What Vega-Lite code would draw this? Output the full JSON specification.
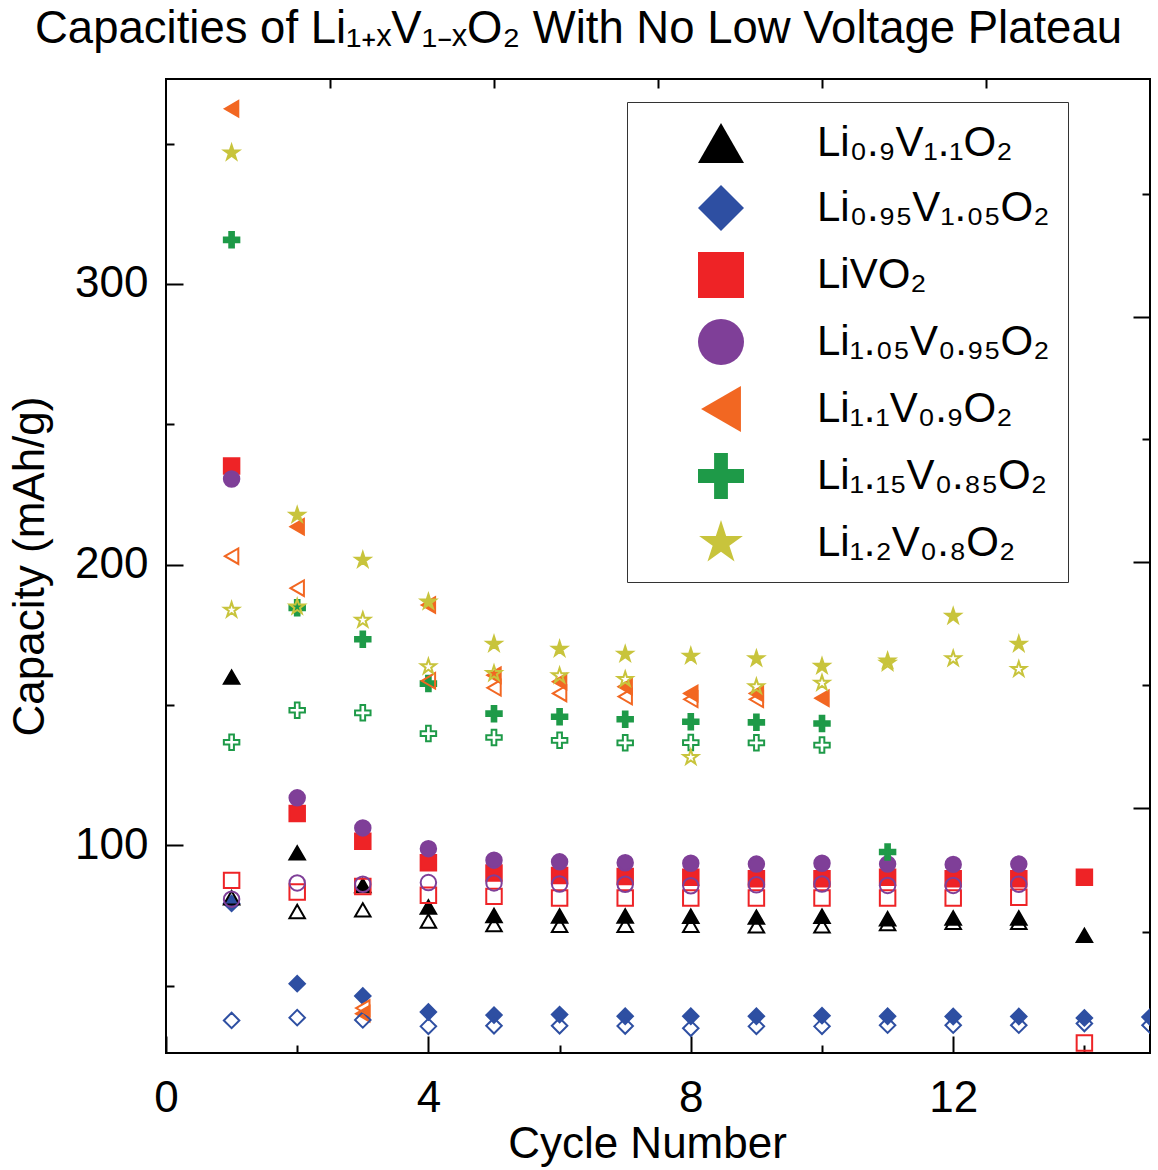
{
  "$schema": "https://vega.github.io/schema/vega-lite/v6.json",
  "autosize": {"type": "none"},
  "padding": {"left": 166, "top": 79, "right": 8, "bottom": 117},
  "width": 984,
  "height": 974,
  "background": "white",
  "title": {
    "text": "Capacities of Li₁₊ₓV₁₋ₓO₂ With No Low Voltage Plateau",
    "anchor": "start",
    "frame": "group",
    "dx": -131,
    "baseline": "alphabetic",
    "offset": -10,
    "fontSize": 45.5,
    "font": "Liberation Sans",
    "fontWeight": "normal",
    "color": "#000000"
  },
  "config": {
    "font": "Liberation Sans",
    "view": {"stroke": "#000000", "strokeWidth": 2},
    "axis": {"grid": false, "domain": false, "tickColor": "#000000", "tickWidth": 2, "labelColor": "#000000", "titleColor": "#000000", "labelFont": "Liberation Sans", "titleFont": "Liberation Sans", "titleFontWeight": "normal"},
    "legend": {
      "orient": "none",
      "legendX": 461,
      "legendY": 23,
      "padding": 18,
      "symbolOffset": 53,
      "labelOffset": 73,
      "rowPadding": 21,
      "symbolSize": 2116,
      "symbolStrokeWidth": 0,
      "labelFontSize": 42,
      "labelFont": "Liberation Sans",
      "labelColor": "#000000",
      "labelLimit": 600,
      "strokeColor": "#333333",
      "fillColor": "#ffffff"
    }
  },
  "datasets": {
    "caps": [
      {"c": "Li₀.₉V₁.₁O₂", "k": "f", "x": 1, "y": 159.9},
      {"c": "Li₀.₉V₁.₁O₂", "k": "f", "x": 2, "y": 97.3},
      {"c": "Li₀.₉V₁.₁O₂", "k": "f", "x": 3, "y": 85.7},
      {"c": "Li₀.₉V₁.₁O₂", "k": "f", "x": 4, "y": 78.0},
      {"c": "Li₀.₉V₁.₁O₂", "k": "f", "x": 5, "y": 75.0},
      {"c": "Li₀.₉V₁.₁O₂", "k": "f", "x": 6, "y": 74.8},
      {"c": "Li₀.₉V₁.₁O₂", "k": "f", "x": 7, "y": 74.8},
      {"c": "Li₀.₉V₁.₁O₂", "k": "f", "x": 8, "y": 74.7},
      {"c": "Li₀.₉V₁.₁O₂", "k": "f", "x": 9, "y": 74.4},
      {"c": "Li₀.₉V₁.₁O₂", "k": "f", "x": 10, "y": 74.7},
      {"c": "Li₀.₉V₁.₁O₂", "k": "f", "x": 11, "y": 73.8},
      {"c": "Li₀.₉V₁.₁O₂", "k": "f", "x": 12, "y": 74.1},
      {"c": "Li₀.₉V₁.₁O₂", "k": "f", "x": 13, "y": 74.1},
      {"c": "Li₀.₉V₁.₁O₂", "k": "f", "x": 14, "y": 67.9},
      {"c": "Li₀.₉₅V₁.₀₅O₂", "k": "f", "x": 1, "y": 79.3},
      {"c": "Li₀.₉₅V₁.₀₅O₂", "k": "f", "x": 2, "y": 50.7},
      {"c": "Li₀.₉₅V₁.₀₅O₂", "k": "f", "x": 3, "y": 46.3},
      {"c": "Li₀.₉₅V₁.₀₅O₂", "k": "f", "x": 4, "y": 40.6},
      {"c": "Li₀.₉₅V₁.₀₅O₂", "k": "f", "x": 5, "y": 39.5},
      {"c": "Li₀.₉₅V₁.₀₅O₂", "k": "f", "x": 6, "y": 39.7},
      {"c": "Li₀.₉₅V₁.₀₅O₂", "k": "f", "x": 7, "y": 39.1},
      {"c": "Li₀.₉₅V₁.₀₅O₂", "k": "f", "x": 8, "y": 39.1},
      {"c": "Li₀.₉₅V₁.₀₅O₂", "k": "f", "x": 9, "y": 39.1},
      {"c": "Li₀.₉₅V₁.₀₅O₂", "k": "f", "x": 10, "y": 39.3},
      {"c": "Li₀.₉₅V₁.₀₅O₂", "k": "f", "x": 11, "y": 39.1},
      {"c": "Li₀.₉₅V₁.₀₅O₂", "k": "f", "x": 12, "y": 39.0},
      {"c": "Li₀.₉₅V₁.₀₅O₂", "k": "f", "x": 13, "y": 39.0},
      {"c": "Li₀.₉₅V₁.₀₅O₂", "k": "f", "x": 14, "y": 38.5},
      {"c": "Li₀.₉₅V₁.₀₅O₂", "k": "f", "x": 15, "y": 38.8},
      {"c": "LiVO₂", "k": "f", "x": 1, "y": 235.1},
      {"c": "LiVO₂", "k": "f", "x": 2, "y": 111.3},
      {"c": "LiVO₂", "k": "f", "x": 3, "y": 101.4},
      {"c": "LiVO₂", "k": "f", "x": 4, "y": 93.8},
      {"c": "LiVO₂", "k": "f", "x": 5, "y": 90.1},
      {"c": "LiVO₂", "k": "f", "x": 6, "y": 89.2},
      {"c": "LiVO₂", "k": "f", "x": 7, "y": 88.9},
      {"c": "LiVO₂", "k": "f", "x": 8, "y": 88.6},
      {"c": "LiVO₂", "k": "f", "x": 9, "y": 88.1},
      {"c": "LiVO₂", "k": "f", "x": 10, "y": 88.1},
      {"c": "LiVO₂", "k": "f", "x": 11, "y": 88.6},
      {"c": "LiVO₂", "k": "f", "x": 12, "y": 88.1},
      {"c": "LiVO₂", "k": "f", "x": 13, "y": 88.1},
      {"c": "LiVO₂", "k": "f", "x": 14, "y": 88.6},
      {"c": "Li₁.₀₅V₀.₉₅O₂", "k": "f", "x": 1, "y": 230.5},
      {"c": "Li₁.₀₅V₀.₉₅O₂", "k": "f", "x": 2, "y": 116.9},
      {"c": "Li₁.₀₅V₀.₉₅O₂", "k": "f", "x": 3, "y": 106.2},
      {"c": "Li₁.₀₅V₀.₉₅O₂", "k": "f", "x": 4, "y": 98.8},
      {"c": "Li₁.₀₅V₀.₉₅O₂", "k": "f", "x": 5, "y": 94.7},
      {"c": "Li₁.₀₅V₀.₉₅O₂", "k": "f", "x": 6, "y": 94.1},
      {"c": "Li₁.₀₅V₀.₉₅O₂", "k": "f", "x": 7, "y": 93.8},
      {"c": "Li₁.₀₅V₀.₉₅O₂", "k": "f", "x": 8, "y": 93.6},
      {"c": "Li₁.₀₅V₀.₉₅O₂", "k": "f", "x": 9, "y": 93.3},
      {"c": "Li₁.₀₅V₀.₉₅O₂", "k": "f", "x": 10, "y": 93.6},
      {"c": "Li₁.₀₅V₀.₉₅O₂", "k": "f", "x": 11, "y": 93.3},
      {"c": "Li₁.₀₅V₀.₉₅O₂", "k": "f", "x": 12, "y": 93.2},
      {"c": "Li₁.₀₅V₀.₉₅O₂", "k": "f", "x": 13, "y": 93.3},
      {"c": "Li₁.₁V₀.₉O₂", "k": "f", "x": 1, "y": 362.4},
      {"c": "Li₁.₁V₀.₉O₂", "k": "f", "x": 2, "y": 213.5},
      {"c": "Li₁.₁V₀.₉O₂", "k": "f", "x": 3, "y": 40.0},
      {"c": "Li₁.₁V₀.₉O₂", "k": "f", "x": 4, "y": 185.6},
      {"c": "Li₁.₁V₀.₉O₂", "k": "f", "x": 5, "y": 160.6},
      {"c": "Li₁.₁V₀.₉O₂", "k": "f", "x": 6, "y": 158.3},
      {"c": "Li₁.₁V₀.₉O₂", "k": "f", "x": 7, "y": 156.5},
      {"c": "Li₁.₁V₀.₉O₂", "k": "f", "x": 8, "y": 154.1},
      {"c": "Li₁.₁V₀.₉O₂", "k": "f", "x": 9, "y": 154.1},
      {"c": "Li₁.₁V₀.₉O₂", "k": "f", "x": 10, "y": 152.4},
      {"c": "Li₁.₁₅V₀.₈₅O₂", "k": "f", "x": 1, "y": 315.7},
      {"c": "Li₁.₁₅V₀.₈₅O₂", "k": "f", "x": 2, "y": 184.6},
      {"c": "Li₁.₁₅V₀.₈₅O₂", "k": "f", "x": 3, "y": 173.4},
      {"c": "Li₁.₁₅V₀.₈₅O₂", "k": "f", "x": 4, "y": 157.6},
      {"c": "Li₁.₁₅V₀.₈₅O₂", "k": "f", "x": 5, "y": 146.9},
      {"c": "Li₁.₁₅V₀.₈₅O₂", "k": "f", "x": 6, "y": 145.8},
      {"c": "Li₁.₁₅V₀.₈₅O₂", "k": "f", "x": 7, "y": 144.9},
      {"c": "Li₁.₁₅V₀.₈₅O₂", "k": "f", "x": 8, "y": 144.0},
      {"c": "Li₁.₁₅V₀.₈₅O₂", "k": "f", "x": 9, "y": 143.8},
      {"c": "Li₁.₁₅V₀.₈₅O₂", "k": "f", "x": 10, "y": 143.4},
      {"c": "Li₁.₁₅V₀.₈₅O₂", "k": "f", "x": 11, "y": 97.6},
      {"c": "Li₁.₂V₀.₈O₂", "k": "f", "x": 1, "y": 346.7},
      {"c": "Li₁.₂V₀.₈O₂", "k": "f", "x": 2, "y": 217.6},
      {"c": "Li₁.₂V₀.₈O₂", "k": "f", "x": 3, "y": 201.6},
      {"c": "Li₁.₂V₀.₈O₂", "k": "f", "x": 4, "y": 186.7},
      {"c": "Li₁.₂V₀.₈O₂", "k": "f", "x": 5, "y": 171.7},
      {"c": "Li₁.₂V₀.₈O₂", "k": "f", "x": 6, "y": 169.9},
      {"c": "Li₁.₂V₀.₈O₂", "k": "f", "x": 7, "y": 168.1},
      {"c": "Li₁.₂V₀.₈O₂", "k": "f", "x": 8, "y": 167.4},
      {"c": "Li₁.₂V₀.₈O₂", "k": "f", "x": 9, "y": 166.5},
      {"c": "Li₁.₂V₀.₈O₂", "k": "f", "x": 10, "y": 163.8},
      {"c": "Li₁.₂V₀.₈O₂", "k": "f", "x": 11, "y": 165.7},
      {"c": "Li₁.₂V₀.₈O₂", "k": "f", "x": 12, "y": 181.6},
      {"c": "Li₁.₂V₀.₈O₂", "k": "f", "x": 13, "y": 171.7},
      {"c": "Li₀.₉V₁.₁O₂", "k": "o", "x": 1, "y": 81.3},
      {"c": "Li₀.₉V₁.₁O₂", "k": "o", "x": 2, "y": 76.4},
      {"c": "Li₀.₉V₁.₁O₂", "k": "o", "x": 3, "y": 77.0},
      {"c": "Li₀.₉V₁.₁O₂", "k": "o", "x": 4, "y": 73.0},
      {"c": "Li₀.₉V₁.₁O₂", "k": "o", "x": 5, "y": 71.8},
      {"c": "Li₀.₉V₁.₁O₂", "k": "o", "x": 6, "y": 71.5},
      {"c": "Li₀.₉V₁.₁O₂", "k": "o", "x": 7, "y": 71.5},
      {"c": "Li₀.₉V₁.₁O₂", "k": "o", "x": 8, "y": 71.5},
      {"c": "Li₀.₉V₁.₁O₂", "k": "o", "x": 9, "y": 71.3},
      {"c": "Li₀.₉V₁.₁O₂", "k": "o", "x": 10, "y": 71.3},
      {"c": "Li₀.₉V₁.₁O₂", "k": "o", "x": 11, "y": 72.1},
      {"c": "Li₀.₉V₁.₁O₂", "k": "o", "x": 12, "y": 72.6},
      {"c": "Li₀.₉V₁.₁O₂", "k": "o", "x": 13, "y": 72.6},
      {"c": "Li₀.₉₅V₁.₀₅O₂", "k": "o", "x": 1, "y": 37.6},
      {"c": "Li₀.₉₅V₁.₀₅O₂", "k": "o", "x": 2, "y": 38.6},
      {"c": "Li₀.₉₅V₁.₀₅O₂", "k": "o", "x": 3, "y": 37.8},
      {"c": "Li₀.₉₅V₁.₀₅O₂", "k": "o", "x": 4, "y": 35.5},
      {"c": "Li₀.₉₅V₁.₀₅O₂", "k": "o", "x": 5, "y": 35.7},
      {"c": "Li₀.₉₅V₁.₀₅O₂", "k": "o", "x": 6, "y": 35.7},
      {"c": "Li₀.₉₅V₁.₀₅O₂", "k": "o", "x": 7, "y": 35.6},
      {"c": "Li₀.₉₅V₁.₀₅O₂", "k": "o", "x": 8, "y": 34.8},
      {"c": "Li₀.₉₅V₁.₀₅O₂", "k": "o", "x": 9, "y": 35.5},
      {"c": "Li₀.₉₅V₁.₀₅O₂", "k": "o", "x": 10, "y": 35.5},
      {"c": "Li₀.₉₅V₁.₀₅O₂", "k": "o", "x": 11, "y": 35.9},
      {"c": "Li₀.₉₅V₁.₀₅O₂", "k": "o", "x": 12, "y": 35.9},
      {"c": "Li₀.₉₅V₁.₀₅O₂", "k": "o", "x": 13, "y": 35.9},
      {"c": "Li₀.₉₅V₁.₀₅O₂", "k": "o", "x": 14, "y": 36.5},
      {"c": "Li₀.₉₅V₁.₀₅O₂", "k": "o", "x": 15, "y": 35.9},
      {"c": "LiVO₂", "k": "o", "x": 1, "y": 87.5},
      {"c": "LiVO₂", "k": "o", "x": 2, "y": 83.4},
      {"c": "LiVO₂", "k": "o", "x": 3, "y": 85.3},
      {"c": "LiVO₂", "k": "o", "x": 4, "y": 82.2},
      {"c": "LiVO₂", "k": "o", "x": 5, "y": 81.8},
      {"c": "LiVO₂", "k": "o", "x": 6, "y": 81.2},
      {"c": "LiVO₂", "k": "o", "x": 7, "y": 81.2},
      {"c": "LiVO₂", "k": "o", "x": 8, "y": 81.2},
      {"c": "LiVO₂", "k": "o", "x": 9, "y": 81.2},
      {"c": "LiVO₂", "k": "o", "x": 10, "y": 81.2},
      {"c": "LiVO₂", "k": "o", "x": 11, "y": 81.2},
      {"c": "LiVO₂", "k": "o", "x": 12, "y": 81.2},
      {"c": "LiVO₂", "k": "o", "x": 13, "y": 81.5},
      {"c": "LiVO₂", "k": "o", "x": 14, "y": 29.6},
      {"c": "Li₁.₀₅V₀.₉₅O₂", "k": "o", "x": 1, "y": 80.8},
      {"c": "Li₁.₀₅V₀.₉₅O₂", "k": "o", "x": 2, "y": 86.6},
      {"c": "Li₁.₀₅V₀.₉₅O₂", "k": "o", "x": 3, "y": 86.1},
      {"c": "Li₁.₀₅V₀.₉₅O₂", "k": "o", "x": 4, "y": 86.7},
      {"c": "Li₁.₀₅V₀.₉₅O₂", "k": "o", "x": 5, "y": 86.6},
      {"c": "Li₁.₀₅V₀.₉₅O₂", "k": "o", "x": 6, "y": 86.2},
      {"c": "Li₁.₀₅V₀.₉₅O₂", "k": "o", "x": 7, "y": 86.1},
      {"c": "Li₁.₀₅V₀.₉₅O₂", "k": "o", "x": 8, "y": 85.6},
      {"c": "Li₁.₀₅V₀.₉₅O₂", "k": "o", "x": 9, "y": 85.9},
      {"c": "Li₁.₀₅V₀.₉₅O₂", "k": "o", "x": 10, "y": 86.2},
      {"c": "Li₁.₀₅V₀.₉₅O₂", "k": "o", "x": 11, "y": 85.7},
      {"c": "Li₁.₀₅V₀.₉₅O₂", "k": "o", "x": 12, "y": 85.7},
      {"c": "Li₁.₀₅V₀.₉₅O₂", "k": "o", "x": 13, "y": 86.1},
      {"c": "Li₁.₁V₀.₉O₂", "k": "o", "x": 1, "y": 203.0},
      {"c": "Li₁.₁V₀.₉O₂", "k": "o", "x": 2, "y": 191.6},
      {"c": "Li₁.₁V₀.₉O₂", "k": "o", "x": 3, "y": 42.0},
      {"c": "Li₁.₁V₀.₉O₂", "k": "o", "x": 4, "y": 158.6},
      {"c": "Li₁.₁V₀.₉O₂", "k": "o", "x": 5, "y": 156.1},
      {"c": "Li₁.₁V₀.₉O₂", "k": "o", "x": 6, "y": 154.1},
      {"c": "Li₁.₁V₀.₉O₂", "k": "o", "x": 7, "y": 153.0},
      {"c": "Li₁.₁V₀.₉O₂", "k": "o", "x": 8, "y": 152.0},
      {"c": "Li₁.₁V₀.₉O₂", "k": "o", "x": 9, "y": 152.0},
      {"c": "Li₁.₁₅V₀.₈₅O₂", "k": "o", "x": 1, "y": 136.7},
      {"c": "Li₁.₁₅V₀.₈₅O₂", "k": "o", "x": 2, "y": 148.1},
      {"c": "Li₁.₁₅V₀.₈₅O₂", "k": "o", "x": 3, "y": 147.2},
      {"c": "Li₁.₁₅V₀.₈₅O₂", "k": "o", "x": 4, "y": 139.8},
      {"c": "Li₁.₁₅V₀.₈₅O₂", "k": "o", "x": 5, "y": 138.4},
      {"c": "Li₁.₁₅V₀.₈₅O₂", "k": "o", "x": 6, "y": 137.4},
      {"c": "Li₁.₁₅V₀.₈₅O₂", "k": "o", "x": 7, "y": 136.5},
      {"c": "Li₁.₁₅V₀.₈₅O₂", "k": "o", "x": 8, "y": 136.6},
      {"c": "Li₁.₁₅V₀.₈₅O₂", "k": "o", "x": 9, "y": 136.5},
      {"c": "Li₁.₁₅V₀.₈₅O₂", "k": "o", "x": 10, "y": 135.7},
      {"c": "Li₁.₂V₀.₈O₂", "k": "o", "x": 1, "y": 183.8},
      {"c": "Li₁.₂V₀.₈O₂", "k": "o", "x": 2, "y": 184.9},
      {"c": "Li₁.₂V₀.₈O₂", "k": "o", "x": 3, "y": 180.2},
      {"c": "Li₁.₂V₀.₈O₂", "k": "o", "x": 4, "y": 163.6},
      {"c": "Li₁.₂V₀.₈O₂", "k": "o", "x": 5, "y": 161.2},
      {"c": "Li₁.₂V₀.₈O₂", "k": "o", "x": 6, "y": 160.4},
      {"c": "Li₁.₂V₀.₈O₂", "k": "o", "x": 7, "y": 159.1},
      {"c": "Li₁.₂V₀.₈O₂", "k": "o", "x": 8, "y": 131.3},
      {"c": "Li₁.₂V₀.₈O₂", "k": "o", "x": 9, "y": 156.5},
      {"c": "Li₁.₂V₀.₈O₂", "k": "o", "x": 10, "y": 157.8},
      {"c": "Li₁.₂V₀.₈O₂", "k": "o", "x": 11, "y": 164.9},
      {"c": "Li₁.₂V₀.₈O₂", "k": "o", "x": 12, "y": 166.5},
      {"c": "Li₁.₂V₀.₈O₂", "k": "o", "x": 13, "y": 162.7}
    ]
  },
  "resolve": {"axis": {"x": "independent", "y": "independent"}},
  "layer": [
    {
      "data": {"name": "caps"},
      "mark": {"type": "point", "size": 240, "strokeWidth": 2, "opacity": 1, "clip": true},
      "encoding": {
        "x": {
          "field": "x", "type": "quantitative",
          "scale": {"domain": [0, 15], "nice": false, "zero": false},
          "axis": {
            "orient": "bottom",
            "values": [0, 2, 4, 6, 8, 10, 12, 14],
            "labelExpr": "datum.value % 4 === 0 ? datum.label : ''",
            "tickSize": {"condition": {"test": "datum.value % 4 === 0", "value": -17}, "value": -8},
            "labelPadding": 40,
            "labelFontSize": 44,
            "labelFlush": false,
            "labelOverlap": false,
            "title": "Cycle Number",
            "titleFontSize": 44,
            "titlePadding": -7,
            "titleX": 481
          }
        },
        "y": {
          "field": "y", "type": "quantitative",
          "scale": {"domain": [26, 373], "nice": false, "zero": false},
          "axis": {
            "orient": "left",
            "values": [50, 100, 150, 200, 250, 300, 350],
            "labelExpr": "datum.value % 100 === 0 ? datum.label : ''",
            "tickSize": {"condition": {"test": "datum.value % 100 === 0", "value": -17}, "value": -8},
            "labelPadding": 35,
            "labelFontSize": 44,
            "labelFlush": false,
            "labelOverlap": false,
            "title": "Capacity (mAh/g)",
            "titleFontSize": 44,
            "titlePadding": 22
          }
        },
        "shape": {
          "field": "c", "type": "nominal",
          "scale": {
            "domain": ["Li₀.₉V₁.₁O₂", "Li₀.₉₅V₁.₀₅O₂", "LiVO₂", "Li₁.₀₅V₀.₉₅O₂", "Li₁.₁V₀.₉O₂", "Li₁.₁₅V₀.₈₅O₂", "Li₁.₂V₀.₈O₂"],
            "range": ["triangle-up", "diamond", "square", "circle", "triangle-left", "M-1,-0.3L-0.3,-0.3L-0.3,-1L0.3,-1L0.3,-0.3L1,-0.3L1,0.3L0.3,0.3L0.3,1L-0.3,1L-0.3,0.3L-1,0.3Z", "M0,-1L0.2245,-0.309L0.951,-0.309L0.363,0.118L0.588,0.809L0,0.382L-0.588,0.809L-0.363,0.118L-0.951,-0.309L-0.2245,-0.309Z"]
          },
          "legend": {"title": null}
        },
        "fill": {
          "field": "c", "type": "nominal",
          "scale": {
            "domain": ["Li₀.₉V₁.₁O₂", "Li₀.₉₅V₁.₀₅O₂", "LiVO₂", "Li₁.₀₅V₀.₉₅O₂", "Li₁.₁V₀.₉O₂", "Li₁.₁₅V₀.₈₅O₂", "Li₁.₂V₀.₈O₂"],
            "range": ["#000000", "#2e4fa2", "#ee2326", "#7f3f98", "#f26722", "#1e9a48", "#c8c43c"]
          },
          "condition": {"test": "datum.k === 'o'", "value": "transparent"},
          "legend": {"title": null}
        },
        "stroke": {
          "field": "c", "type": "nominal",
          "scale": {
            "domain": ["Li₀.₉V₁.₁O₂", "Li₀.₉₅V₁.₀₅O₂", "LiVO₂", "Li₁.₀₅V₀.₉₅O₂", "Li₁.₁V₀.₉O₂", "Li₁.₁₅V₀.₈₅O₂", "Li₁.₂V₀.₈O₂"],
            "range": ["#000000", "#2e4fa2", "#ee2326", "#7f3f98", "#f26722", "#1e9a48", "#c8c43c"]
          },
          "legend": {"title": null}
        }
      }
    },
    {
      "data": {"values": []},
      "mark": {"type": "point", "opacity": 0},
      "encoding": {
        "x": {
          "field": "x", "type": "quantitative",
          "axis": {
            "orient": "top",
            "values": [2.5, 5, 7.5, 10, 12.5],
            "labels": false,
            "tickSize": -9,
            "title": null
          }
        },
        "y": {
          "field": "y", "type": "quantitative",
          "axis": {
            "orient": "right",
            "values": [69, 113.3, 157.1, 200.9, 244.7, 288.2, 332],
            "labels": false,
            "tickSize": {"condition": {"test": "(datum.value > 100 && datum.value < 120) || (datum.value > 190 && datum.value < 210) || (datum.value > 280 && datum.value < 300)", "value": -17}, "value": -8},
            "title": null
          }
        }
      }
    }
  ]
}
